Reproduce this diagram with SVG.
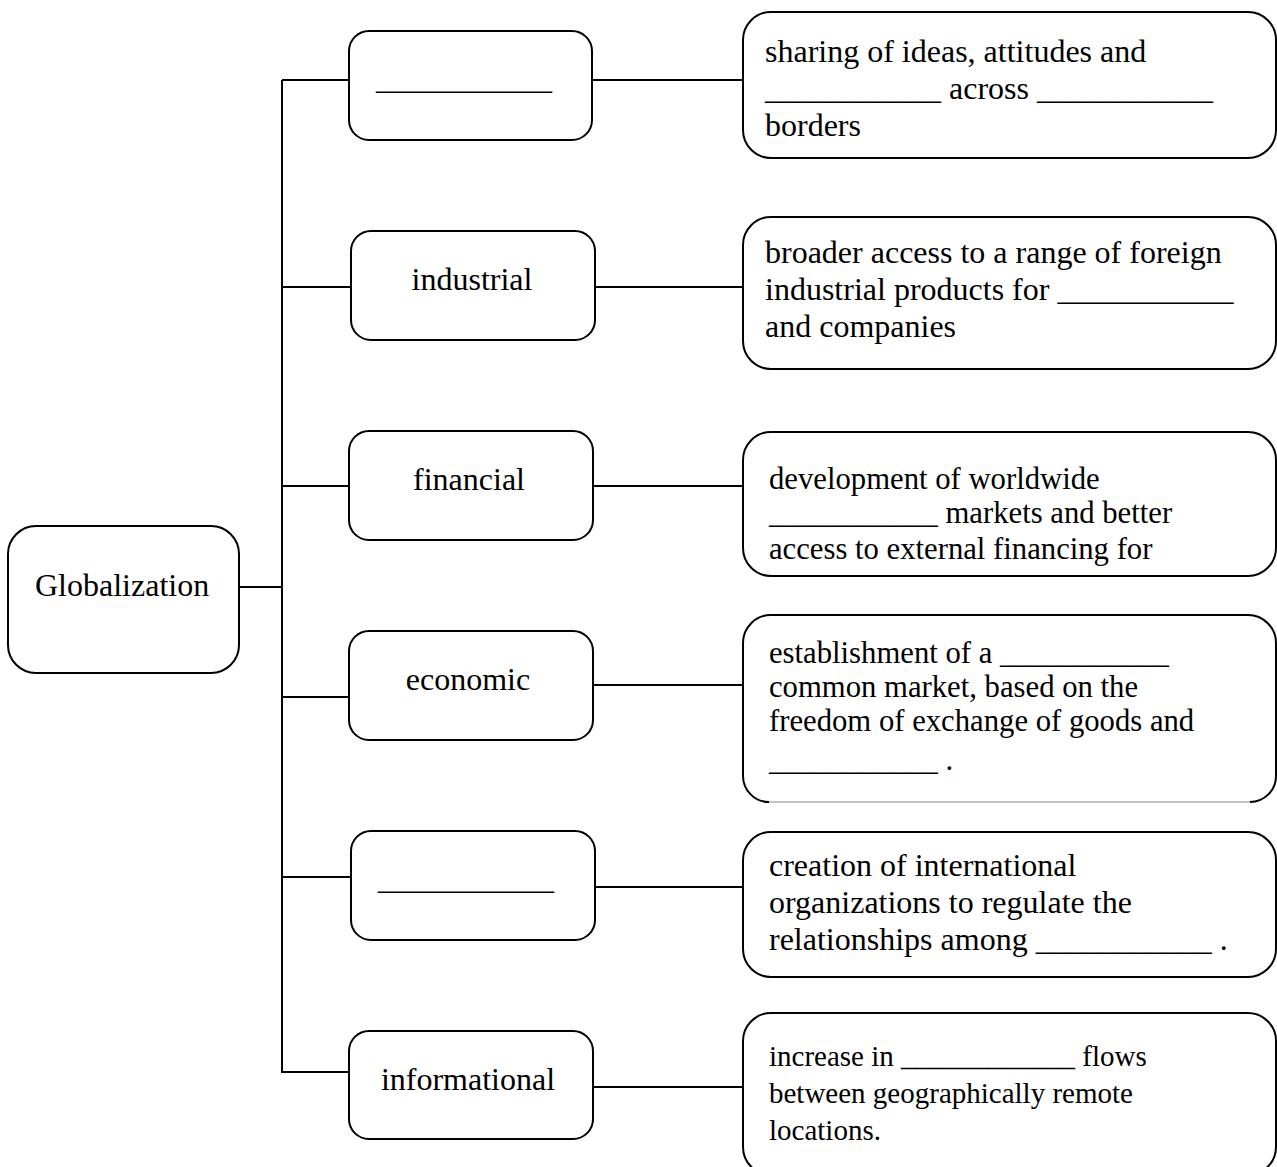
<svg xmlns="http://www.w3.org/2000/svg" width="1277" height="1167" viewBox="0 0 1277 1167">
<style>
.box{fill:#fff;stroke:#000;stroke-width:2}
.ln{fill:none;stroke:#000;stroke-width:2}
text{font-family:"Liberation Serif","Times New Roman",serif;font-size:32px;fill:#000}
.c{text-anchor:middle}
.s{font-size:30.7px}
.t{font-size:29px}
</style>
<rect width="1277" height="1167" fill="#fff"/>
<g id="connectors">
<path class="ln" d="M240,587 H282 M282,80 V1072 H349 M282,80 H349 M282,287 H351 M282,486 H349 M282,697 H349 M282,877 H351"/>
<path class="ln" d="M592,80 H743 M595,287 H743 M593,486 H743 M593,685 H743 M595,887 H743 M593,1087 H743"/>
</g>
<g id="globalization"><rect class="box" x="8" y="526" width="231" height="147" rx="28"/><text x="35" y="596">Globalization</text></g>
<g id="m1"><rect class="box" x="349" y="31" width="243" height="109" rx="20"/><text class="c" x="464" y="89">___________</text></g>
<g id="m2"><rect class="box" x="351" y="231" width="244" height="109" rx="20"/><text class="c" x="472" y="290">industrial</text></g>
<g id="m3"><rect class="box" x="349" y="431" width="244" height="109" rx="20"/><text class="c" x="469" y="490">financial</text></g>
<g id="m4"><rect class="box" x="349" y="631" width="244" height="109" rx="20"/><text class="c" x="468" y="690">economic</text></g>
<g id="m5"><rect class="box" x="351" y="831" width="244" height="109" rx="20"/><text class="c" x="466" y="889">___________</text></g>
<g id="m6"><rect class="box" x="349" y="1031" width="244" height="108" rx="20"/><text class="c" x="468" y="1090">informational</text></g>
<g id="r1"><rect class="box" x="743" y="12" width="533" height="146" rx="28"/>
<text x="765" y="62">sharing of ideas, attitudes and</text>
<text x="765" y="99">___________ across ___________</text>
<text x="765" y="136">borders</text></g>
<g id="r2"><rect class="box" x="743" y="217" width="533" height="152" rx="28"/>
<text x="765" y="263">broader access to a range of foreign</text>
<text x="765" y="300">industrial products for ___________</text>
<text x="765" y="337">and companies</text></g>
<g id="r3"><rect class="box" x="743" y="432" width="533" height="144" rx="28"/>
<text class="s" x="769" y="489">development of worldwide</text>
<text class="s" x="769" y="523">___________ markets and better</text>
<text class="s" x="769" y="559">access to external financing for</text></g>
<g id="r4"><path class="box" d="M769,802 A26,26 0 0 1 743,776 V643 A28,28 0 0 1 771,615 H1248 A28,28 0 0 1 1276,643 V776 A26,26 0 0 1 1250,802"/>
<line x1="769" y1="802" x2="1250" y2="802" stroke="#888" stroke-width="1.2"/>
<text class="s" x="769" y="663">establishment of a ___________</text>
<text class="s" x="769" y="697">common market, based on the</text>
<text class="s" x="769" y="731">freedom of exchange of goods and</text>
<text class="s" x="769" y="770">___________ .</text></g>
<g id="r5"><rect class="box" x="743" y="832" width="533" height="145" rx="28"/>
<text x="769" y="876">creation of international</text>
<text x="769" y="913">organizations to regulate the</text>
<text x="769" y="950">relationships among ___________ .</text></g>
<g id="r6"><rect class="box" x="743" y="1013" width="533" height="162" rx="28"/>
<text class="t" x="769" y="1066">increase in ____________ flows</text>
<text class="t" x="769" y="1103">between geographically remote</text>
<text class="t" x="769" y="1140">locations.</text></g>
</svg>
